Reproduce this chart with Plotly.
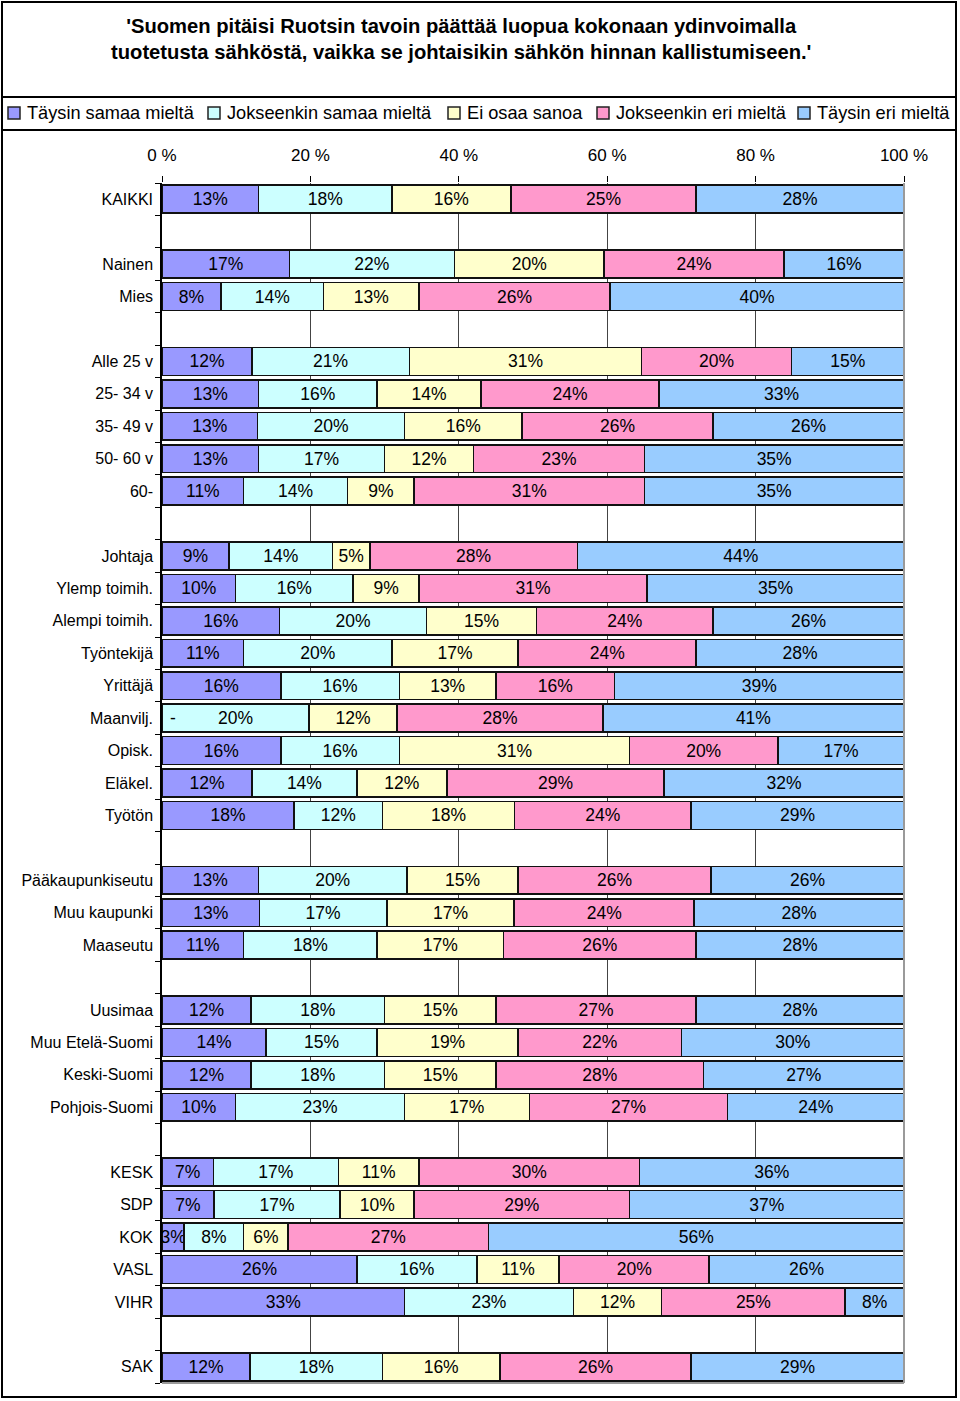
import plotly.graph_objects as go

# ---------------- data ----------------
series_names = ["Täysin samaa mieltä", "Jokseenkin samaa mieltä", "Ei osaa sanoa",
                "Jokseenkin eri mieltä", "Täysin eri mieltä"]
series_colors = ["#9999FF", "#CCFFFF", "#FFFFCC", "#FF99CC", "#99CCFF"]

groups = [
    ["KAIKKI"],
    ["Nainen", "Mies"],
    ["Alle 25 v", "25- 34 v", "35- 49 v", "50- 60 v", "60-"],
    ["Johtaja", "Ylemp toimih.", "Alempi toimih.", "Työntekijä", "Yrittäjä",
     "Maanvilj.", "Opisk.", "Eläkel.", "Työtön"],
    ["Pääkaupunkiseutu", "Muu kaupunki", "Maaseutu"],
    ["Uusimaa", "Muu Etelä-Suomi", "Keski-Suomi", "Pohjois-Suomi"],
    ["KESK", "SDP", "KOK", "VASL", "VIHR"],
    ["SAK"],
]

taysin_samaa = [13, 17, 8, 12, 13, 13, 13, 11, 9, 10, 16, 11, 16, 0, 16, 12, 18,
                13, 13, 11, 12, 14, 12, 10, 7, 7, 3, 26, 33, 12]
jokseenkin_samaa = [18, 22, 14, 21, 16, 20, 17, 14, 14, 16, 20, 20, 16, 20, 16, 14, 12,
                    20, 17, 18, 18, 15, 18, 23, 17, 17, 8, 16, 23, 18]
ei_osaa = [16, 20, 13, 31, 14, 16, 12, 9, 5, 9, 15, 17, 13, 12, 31, 12, 18,
           15, 17, 17, 15, 19, 15, 17, 11, 10, 6, 11, 12, 16]
jokseenkin_eri = [25, 24, 26, 20, 24, 26, 23, 31, 28, 31, 24, 24, 16, 28, 20, 29, 24,
                  26, 24, 26, 27, 22, 28, 27, 30, 29, 27, 20, 25, 26]
taysin_eri = [28, 16, 40, 15, 33, 26, 35, 35, 44, 35, 26, 28, 39, 41, 17, 32, 29,
              26, 28, 28, 28, 30, 27, 24, 36, 37, 56, 26, 8, 29]
# labels shown where the value is missing ("-"): category -> series index
missing_label = {"Maanvilj.": 0}

x_tickvals = [0, 20, 40, 60, 80, 100]
x_ticktext = ["0 %", "20 %", "40 %", "60 %", "80 %", "100 %"]

title_lines = ["'Suomen pitäisi Ruotsin tavoin päättää luopua kokonaan ydinvoimalla",
               "tuotetusta sähköstä, vaikka se johtaisikin sähkön hinnan kallistumiseen.'"]

# ---------------- build rows with gaps ----------------
categories = [c for g in groups for c in g]
series = [taysin_samaa, jokseenkin_samaa, ei_osaa, jokseenkin_eri, taysin_eri]

row_index = {}
idx = 0
for gi, g in enumerate(groups):
    if gi > 0:
        idx += 1  # empty row between groups
    for c in g:
        row_index[c] = idx
        idx += 1
n_rows = idx
y_pos = [row_index[c] for c in categories]

FONT = "Liberation Sans, Arial, sans-serif"

fig = go.Figure()
for si, (name, color, vals) in enumerate(zip(series_names, series_colors, series)):
    texts = []
    for c, v in zip(categories, vals):
        if missing_label.get(c) == si:
            texts.append("")
        else:
            texts.append(f"{v}%")
    fig.add_trace(go.Bar(
        y=y_pos, x=vals, name=name, orientation="h",
        marker=dict(color=color, line=dict(color="#111111", width=1.6)),
        text=texts, textposition="inside", insidetextanchor="middle",
        textangle=0, constraintext="none",
        textfont=dict(family=FONT, size=17.5, color="#000000"),
        showlegend=False, hoverinfo="skip",
    ))

# plot area in pixels
L, R, T, B = 162, 904, 183, 1383
W, H = R - L, B - T


def xp(px):
    return (px - L) / W


def yp(py):
    return (B - py) / H


shapes = []
annotations = []

# outer frame and separators
shapes.append(dict(type="rect", xref="paper", yref="paper",
                   x0=xp(2), x1=xp(956), y0=yp(2), y1=yp(1397),
                   line=dict(color="#000000", width=2), layer="above"))
for ly in (97, 130):
    shapes.append(dict(type="line", xref="paper", yref="paper",
                       x0=xp(2), x1=xp(956), y0=yp(ly), y1=yp(ly),
                       line=dict(color="#000000", width=2)))

# gray plot border (right and bottom)
shapes.append(dict(type="line", xref="paper", yref="paper", x0=1, x1=1, y0=0, y1=1,
                   line=dict(color="#9a9a9a", width=2)))
shapes.append(dict(type="line", xref="paper", yref="paper", x0=0, x1=1, y0=0, y1=0,
                   line=dict(color="#9a9a9a", width=2)))

# title
annotations.append(dict(xref="paper", yref="paper", x=xp(461), y=yp(38.5),
                        xanchor="center", yanchor="middle", showarrow=False,
                        text="<b>" + "<br>".join(title_lines) + "</b>",
                        font=dict(family=FONT, size=20.2, color="#000000")))

# legend (manual)
marker_x = [8, 208, 448, 597, 798]
for mx, name, color in zip(marker_x, series_names, series_colors):
    shapes.append(dict(type="rect", xref="paper", yref="paper",
                       x0=xp(mx), x1=xp(mx + 12), y0=yp(119), y1=yp(107),
                       fillcolor=color, line=dict(color="#222222", width=1.5)))
    annotations.append(dict(xref="paper", yref="paper", x=xp(mx + 17), y=yp(113),
                            xanchor="left", yanchor="middle", showarrow=False,
                            text=name, font=dict(family=FONT, size=18.2, color="#000000")))

# "-" label for missing value
for cat in missing_label:
    annotations.append(dict(xref="x", yref="y", x=0, y=row_index[cat], xanchor="left",
                            yanchor="middle", xshift=6, showarrow=False, text="-",
                            font=dict(family=FONT, size=17.5, color="#000000")))

fig.update_layout(
    width=960, height=1401,
    margin=dict(l=L, r=960 - R, t=T, b=1401 - B, pad=0),
    barmode="stack", barnorm="percent", bargap=0.14,
    paper_bgcolor="#ffffff", plot_bgcolor="#ffffff",
    font=dict(family=FONT, color="#000000"),
    uniformtext=dict(minsize=17.5, mode="show"),
    shapes=shapes, annotations=annotations,
    showlegend=False,
)
fig.update_xaxes(side="top", range=[0, 100], tickvals=x_tickvals, ticktext=x_ticktext,
                 showgrid=True, gridcolor="#444444", gridwidth=1, zeroline=False,
                 showline=False, ticks="outside", ticklen=6, tickcolor="#000000",
                 tickfont=dict(family=FONT, size=17, color="#000000"),
                 ticklabelstandoff=8, fixedrange=True)
fig.update_yaxes(range=[n_rows - 0.5, -0.5], tickmode="array",
                 tickvals=y_pos, ticktext=categories,
                 showgrid=False, zeroline=False,
                 showline=True, linecolor="#000000", linewidth=1.5,
                 ticks="", ticklen=5,
                 minor=dict(tickmode="array",
                            tickvals=[i - 0.5 for i in range(n_rows + 1)],
                            ticks="outside", ticklen=5, tickcolor="#000000",
                            showgrid=False),
                 tickfont=dict(family=FONT, size=16, color="#000000"),
                 ticklabelstandoff=4, fixedrange=True)

fig.write_html("out.html", config={"displayModeBar": False},
               post_script="document.body.style.margin='0';document.body.style.padding='0';")
